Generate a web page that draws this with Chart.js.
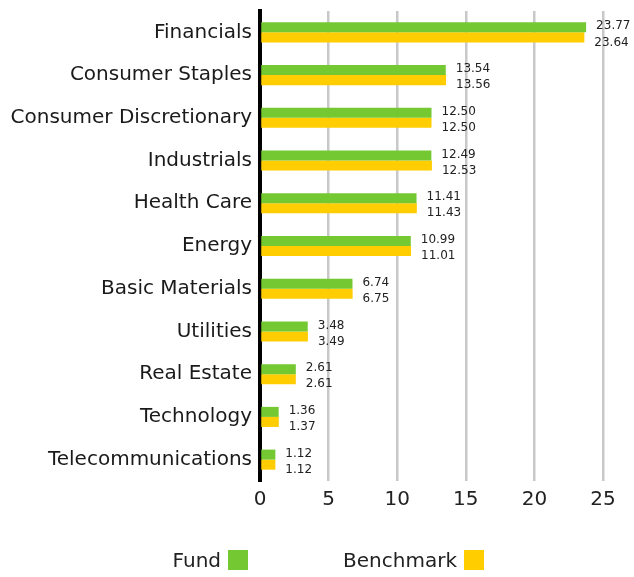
<!DOCTYPE html>
<html>
<head>
<meta charset="utf-8">
<script src="https://cdn.jsdelivr.net/npm/chart.js@4"></script>
<style>
  html, body { margin: 0; padding: 0; background: #fff; }
  #wrap { width: 634px; height: 577px; }
</style>
</head>
<body>
<div id="wrap"><canvas id="grafica" width="634" height="577"></canvas></div>
<script>
const sectores = ['Financials', 'Consumer Staples', 'Consumer Discretionary', 'Industrials', 'Health Care',
  'Energy', 'Basic Materials', 'Utilities', 'Real Estate', 'Technology', 'Telecommunications'];
const fondo = [23.77, 13.54, 12.50, 12.49, 11.41, 10.99, 6.74, 3.48, 2.61, 1.36, 1.12];
const referencia = [23.64, 13.56, 12.50, 12.53, 11.43, 11.01, 6.75, 3.49, 2.61, 1.37, 1.12];
const ticksX = [0, 5, 10, 15, 20, 25];

const colores = { fondo: '#74C932', referencia: '#FFCD00' };
const fuente = '"DejaVu Sans", sans-serif';

// etiquetas de valor a la derecha de cada barra
const etiquetasValor = {
  id: 'etiquetasValor',
  afterDatasetsDraw(chart) {
    const ctx = chart.ctx;
    ctx.save();
    ctx.font = '12px ' + fuente;
    ctx.fillStyle = '#222';
    ctx.textBaseline = 'middle';
    ctx.textAlign = 'left';
    chart.data.datasets.forEach((ds, i) => {
      const meta = chart.getDatasetMeta(i);
      meta.data.forEach((bar, j) => {
        const dy = i === 0 ? -1 : 5;
        ctx.fillText(ds.data[j].toFixed(2), bar.x + 10, bar.y + dy);
      });
    });
    ctx.restore();
  }
};

// leyenda con el texto antes del cuadro de color
const leyenda = {
  id: 'leyenda',
  afterDraw(chart) {
    const ctx = chart.ctx;
    ctx.save();
    ctx.font = '20px ' + fuente;
    ctx.fillStyle = '#222';
    ctx.textBaseline = 'middle';
    ctx.textAlign = 'right';
    const items = [
      { texto: chart.data.datasets[0].label, color: colores.fondo, x: 228 },
      { texto: chart.data.datasets[1].label, color: colores.referencia, x: 464 }
    ];
    items.forEach(it => {
      ctx.fillText(it.texto, it.x - 7, 562);
      ctx.fillStyle = it.color;
      ctx.fillRect(it.x, 550, 20, 20);
      ctx.fillStyle = '#222';
    });
    ctx.restore();
  }
};

const ctx = document.getElementById('grafica').getContext('2d');
const chart = new Chart(ctx, {
  type: 'bar',
  data: {
    labels: sectores,
    datasets: [
      { label: 'Fund', data: fondo, backgroundColor: colores.fondo },
      { label: 'Benchmark', data: referencia, backgroundColor: colores.referencia }
    ]
  },
  options: {
    indexAxis: 'y',
    responsive: false,
    animation: false,
    datasets: { bar: { categoryPercentage: 0.47, barPercentage: 1.0 } },
    layout: { padding: { top: 11, right: 31, bottom: 56, left: 0 } },
    plugins: { legend: { display: false }, tooltip: { enabled: false } },
    scales: {
      x: {
        min: 0,
        max: 25,
        afterBuildTicks: (scale) => { scale.ticks = ticksX.map(v => ({ value: v })); },
        afterFit: (scale) => { scale.height = 40; },
        grid: {
          drawTicks: false,
          lineWidth: 2.5,
          color: (c) => c.tick && c.tick.value === 0 ? 'rgba(0,0,0,0)' : '#c8c8c8'
        },
        border: { display: false },
        ticks: { color: '#222', padding: 7, font: { family: fuente, size: 20 } }
      },
      y: {
        afterFit: (scale) => {
          scale.width = 260;
          scale.paddingTop = 0;
          scale.paddingBottom = 0;
        },
        grid: { display: false, drawTicks: false },
        border: { color: '#000', width: 4 },
        ticks: { color: '#1a1a1a', padding: 8, font: { family: fuente, size: 20 } }
      }
    }
  },
  plugins: [etiquetasValor, leyenda]
});
</script>
</body>
</html>
